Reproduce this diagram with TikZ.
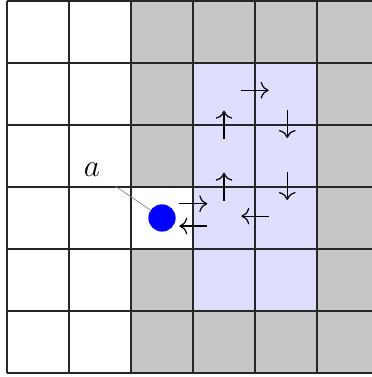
\documentclass[tikz,border=0pt]{standalone}
\usepackage{xcolor}
\usepackage{tikz}
\usetikzlibrary{arrows.meta}

\begin{document}
\begin{tikzpicture}[
  gridline/.style={black!85, line width=0.5pt},
  blocked/.style={fill=gray!45},
  region/.style={fill=blue!13},
  arr/.style={-{To[scale=1.3]}, line width=0.55pt},
  agent/.style={circle, fill=blue, minimum size=4.4mm, inner sep=0pt},
  tag/.style={font=\Large},
  lead/.style={gray, line width=0.3pt, shorten <=4pt}]
\useasboundingbox (-0.113,-0.065) rectangle (5.887,6.016);
\fill[blocked] (2,0) rectangle (6,6);
\fill[white] (2,2) rectangle (3,3);
\fill[region] (3,1) rectangle (5,5);
\draw[gridline] (0,0) grid (6,6);
\node[agent] (dot) at (2.5,2.5) {};
\node[tag] (lbl) at (1.37,3.27) {$a$};
\draw[lead] (lbl) -- (dot);
\foreach \x/\y/\dx/\dy in {2.78/2.73/0.45/0, 3.23/2.37/-0.45/0, 3.5/2.78/0/0.45, 3.5/3.78/0/0.45,
  3.77/4.56/0.45/0, 4.52/4.24/0/-0.45, 4.52/3.24/0/-0.45, 4.23/2.53/-0.45/0}
  \draw[arr] (\x,\y) -- ++(\dx,\dy);
\end{tikzpicture}
\end{document}
